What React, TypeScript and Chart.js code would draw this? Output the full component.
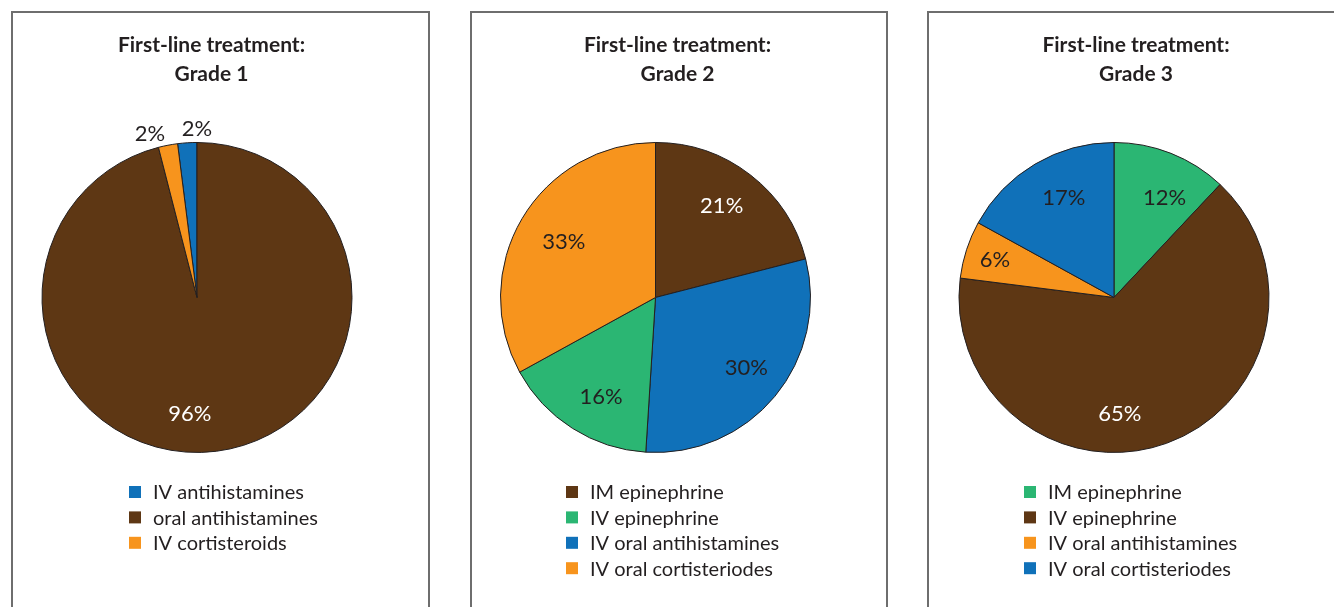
import React, { useEffect, useRef } from "react";
import { Chart, registerables } from "chart.js";

Chart.register(...registerables);

const FONT = "Lato, 'Open Sans', sans-serif";
const TEXT = "#231f20";

const BROWN = "#5e3714";
const ORANGE = "#f7941d";
const BLUE = "#1071b9";
const GREEN = "#2bb673";

const TITLE_LINE = "First-line treatment:";

// Grade 1
const grade1Title = "Grade 1";
const grade1Labels = ["IV antihistamines", "oral antihistamines", "IV cortisteroids"];
const grade1Values = [2, 96, 2];
const grade1Colors = [BLUE, BROWN, ORANGE];
const grade1LegendOrder = [0, 1, 2];

// Grade 2
const grade2Title = "Grade 2";
const grade2Labels = ["IM epinephrine", "IV oral antihistamines", "IV epinephrine", "IV oral cortisteriodes"];
const grade2Values = [21, 30, 16, 33];
const grade2Colors = [BROWN, BLUE, GREEN, ORANGE];
const grade2LegendOrder = [0, 2, 1, 3];

// Grade 3
const grade3Title = "Grade 3";
const grade3Labels = ["IM epinephrine", "IV epinephrine", "IV oral antihistamines", "IV oral cortisteriodes"];
const grade3Values = [12, 65, 6, 17];
const grade3Colors = [GREEN, BROWN, ORANGE, BLUE];
const grade3LegendOrder = [0, 1, 2, 3];

type PanelDef = {
  title: string;
  labels: string[];
  values: number[];
  colors: string[];
  legendOrder: number[];
  rotation: number;
  // style / layout
  panelLeft: number;
  panelWidth: number;
  canvasWidth: number;
  padRight: number;
  legendLeft: number;
  labelPlace: [number, number][]; // [angle nudge in degrees, radius fraction]
};

const PANELS: PanelDef[] = [
  {
    title: grade1Title,
    labels: grade1Labels,
    values: grade1Values,
    colors: grade1Colors,
    legendOrder: grade1LegendOrder,
    rotation: -(grade1Values[0] / 100) * 360,
    panelLeft: 11,
    panelWidth: 419,
    canvasWidth: 401,
    padRight: 29,
    legendLeft: 118,
    labelPlace: [
      [3.6, 1.09],
      [10.7, 0.75],
      [-5.2, 1.1],
    ],
  },
  {
    title: grade2Title,
    labels: grade2Labels,
    values: grade2Values,
    colors: grade2Colors,
    legendOrder: grade2LegendOrder,
    rotation: 0,
    panelLeft: 470,
    panelWidth: 418,
    canvasWidth: 415,
    padRight: 44,
    legendLeft: 96,
    labelPlace: [
      [-2, 0.73],
      [-2, 0.74],
      [-3.7, 0.73],
      [0.4, 0.69],
    ],
  },
  {
    title: grade3Title,
    labels: grade3Labels,
    values: grade3Values,
    colors: grade3Colors,
    legendOrder: grade3LegendOrder,
    rotation: 0,
    panelLeft: 927,
    panelWidth: 418,
    canvasWidth: 418,
    padRight: 44,
    legendLeft: 97,
    labelPlace: [
      [5.4, 0.72],
      [17, 0.755],
      [-0.5, 0.805],
      [3.9, 0.72],
    ],
  },
];

const CANVAS_TOP = 11;
const CANVAS_HEIGHT = 596;

const centerTitle = {
  id: "centerTitle",
  afterLayout(chart: any) {
    if (chart.titleBlock) {
      chart.titleBlock.left = 0;
      chart.titleBlock.right = chart.width;
      chart.titleBlock.width = chart.width;
    }
  },
};

const pctLabels = {
  id: "pctLabels",
  afterDatasetsDraw(chart: any, _args: any, opts: any) {
    const ctx = chart.ctx;
    const meta = chart.getDatasetMeta(0);
    const ds = chart.data.datasets[0];
    ctx.save();
    ctx.font = `${opts.size}px ${FONT}`;
    ctx.textAlign = "center";
    ctx.textBaseline = "middle";
    meta.data.forEach((arc: any, i: number) => {
      const p = arc.getProps(["x", "y", "startAngle", "endAngle", "outerRadius"], true);
      const [nudge, frac] = opts.place[i] || [0, 0.72];
      const a = (p.startAngle + p.endAngle) / 2 + (nudge * Math.PI) / 180;
      const r = p.outerRadius * frac;
      ctx.fillStyle = ds.backgroundColor[i] === BROWN ? "#ffffff" : TEXT;
      ctx.fillText(`${ds.data[i]}%`, p.x + Math.cos(a) * r, p.y + Math.sin(a) * r);
    });
    ctx.restore();
  },
};

const blockLegend = {
  id: "blockLegend",
  afterDraw(chart: any, _args: any, opts: any) {
    const ctx = chart.ctx;
    const ds = chart.data.datasets[0];
    const labels = chart.data.labels;
    ctx.save();
    ctx.font = `${opts.size}px ${FONT}`;
    ctx.textAlign = "left";
    ctx.textBaseline = "middle";
    opts.order.forEach((idx: number, row: number) => {
      const y = opts.top + row * opts.rowHeight;
      ctx.fillStyle = ds.backgroundColor[idx];
      ctx.fillRect(opts.left, y - 6, 12, 12);
      ctx.fillStyle = TEXT;
      ctx.fillText(labels[idx], opts.left + 24, y + 1);
    });
    ctx.restore();
  },
};

function PiePanel({ def }: { def: PanelDef }) {
  const ref = useRef<HTMLCanvasElement | null>(null);
  useEffect(() => {
    if (!ref.current) return;
    const chart = new Chart(ref.current, {
      type: "pie",
      data: {
        labels: def.labels,
        datasets: [
          {
            data: def.values,
            backgroundColor: def.colors,
            borderColor: TEXT,
            borderWidth: 1,
          },
        ],
      },
      options: {
        responsive: false,
        animation: false,
        rotation: def.rotation,
        radius: 155,
        layout: { padding: { left: 0, right: def.padRight, top: 0, bottom: 139.5 } },
        plugins: {
          legend: { display: false },
          tooltip: { enabled: false },
          title: {
            display: true,
            text: [TITLE_LINE, def.title],
            color: TEXT,
            font: { family: FONT, size: 21, weight: "bold", lineHeight: 1.38 },
            padding: { top: 19.5, bottom: 39 },
          },
          pctLabels: { size: 22, place: def.labelPlace },
          blockLegend: { size: 20, order: def.legendOrder, left: def.legendLeft, top: 481, rowHeight: 25.4 },
        } as any,
      },
      plugins: [centerTitle, pctLabels, blockLegend],
    });
    return () => chart.destroy();
  }, [def]);

  return (
    <>
      <div
        style={{
          position: "absolute",
          left: def.panelLeft,
          top: 11,
          width: def.panelWidth,
          height: 640,
          border: "2px solid #6e6e6e",
          boxSizing: "border-box",
        }}
      />
      <canvas
        ref={ref}
        width={def.canvasWidth}
        height={CANVAS_HEIGHT}
        style={{
          position: "absolute",
          left: def.panelLeft,
          top: CANVAS_TOP,
          width: def.canvasWidth,
          height: CANVAS_HEIGHT,
          display: "block",
        }}
      />
    </>
  );
}

export default function App() {
  return (
    <div
      style={{
        position: "absolute",
        left: 0,
        top: 0,
        width: 1334,
        height: 607,
        overflow: "hidden",
        background: "#ffffff",
      }}
    >
      {PANELS.map((p, i) => (
        <PiePanel key={i} def={p} />
      ))}
    </div>
  );
}
